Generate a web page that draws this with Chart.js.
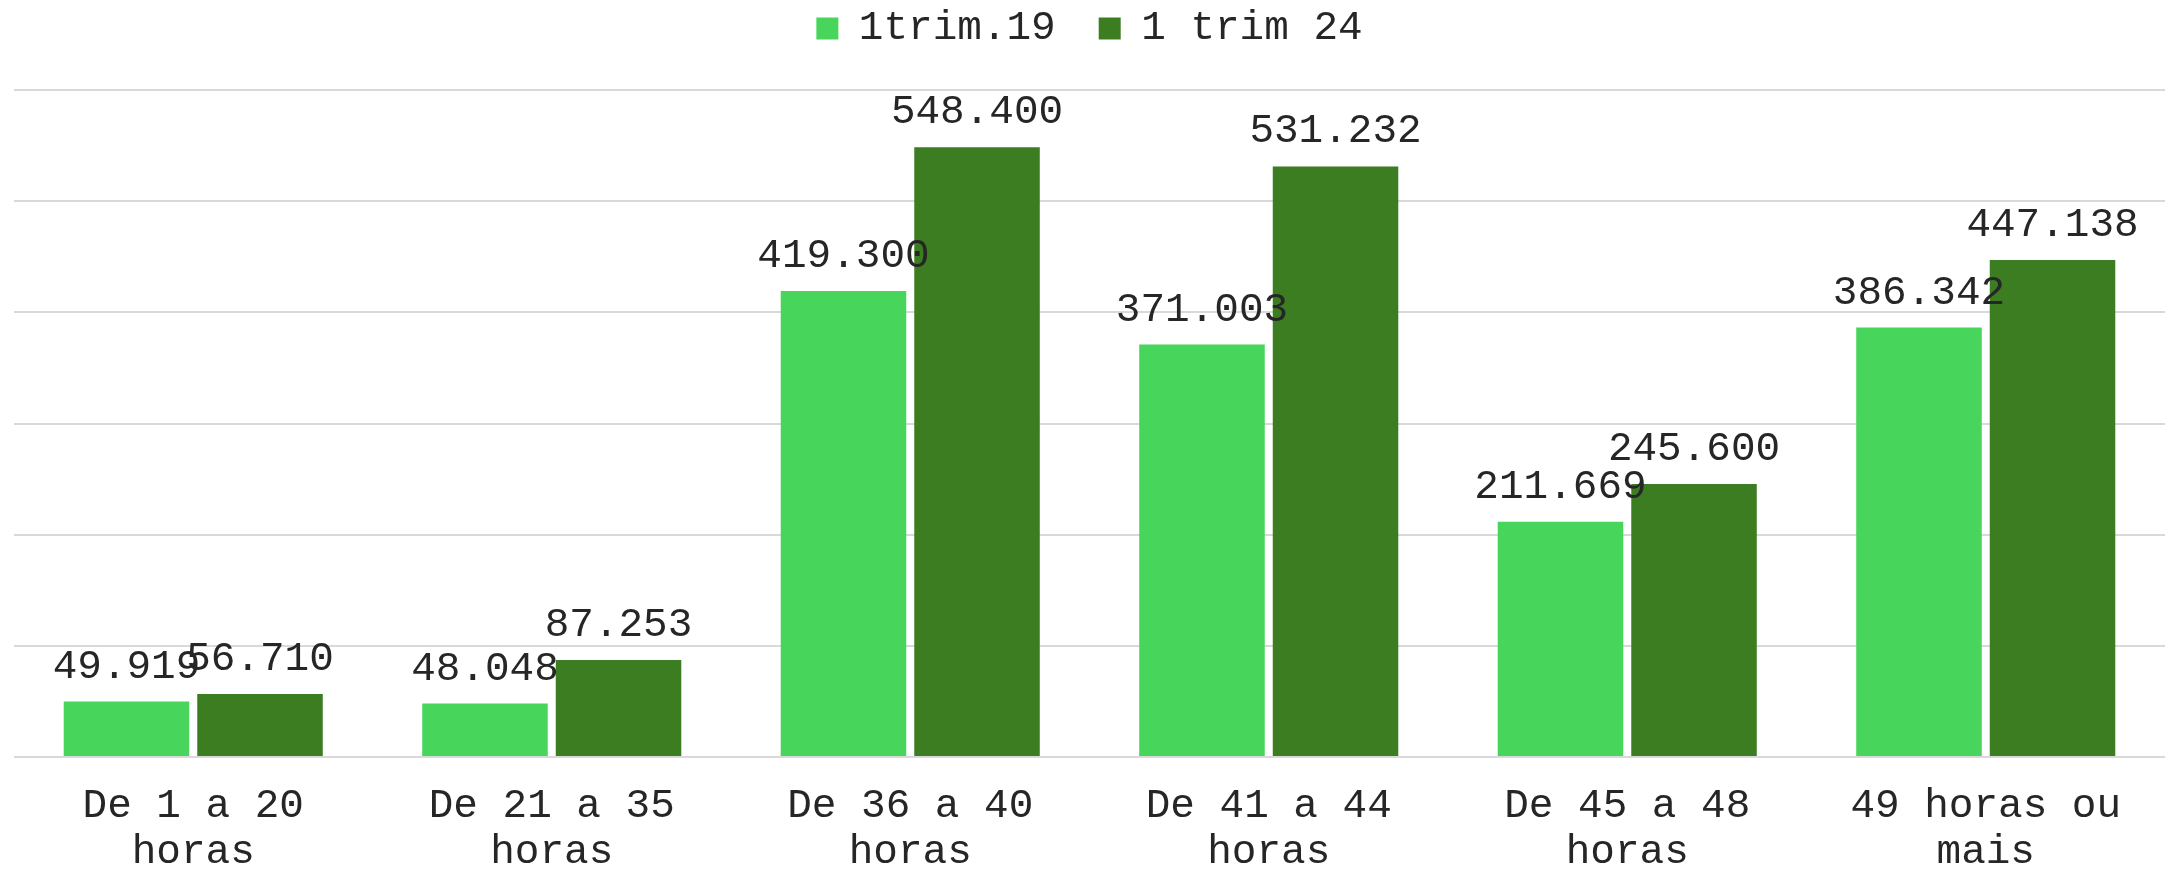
<!DOCTYPE html>
<html>
<head>
<meta charset="utf-8">
<script src="https://cdn.jsdelivr.net/npm/chart.js@4/dist/chart.umd.min.js"></script>
<style>
  html, body { margin: 0; padding: 0; background: #fff; }
  #wrap { width: 2165px; height: 869px; position: relative; }
</style>
</head>
<body>
<div id="wrap"><canvas id="horasChart"></canvas></div>
<script>
// dados
const categorias = [
    ['De 1 a 20', 'horas'],
    ['De 21 a 35', 'horas'],
    ['De 36 a 40', 'horas'],
    ['De 41 a 44', 'horas'],
    ['De 45 a 48', 'horas'],
    ['49 horas ou', 'mais']
];
const serieNomes = ['1trim.19', '1 trim 24'];
const trim19 = [49919, 48048, 419300, 371003, 211669, 386342];
const trim24 = [56710, 87253, 548400, 531232, 245600, 447138];
const gridTicks = [0, 100000, 200000, 300000, 400000, 500000, 600000];

const FONTE = "'Liberation Mono', 'Courier New', monospace";
const COR_TEXTO = '#262626';

function formataPt(v) {
    return String(v).replace(/\B(?=(\d{3})+(?!\d))/g, '.');
}

// rotulos por cima das barras
const rotulosPlugin = {
    id: 'rotulos',
    afterDatasetsDraw(chart) {
        const ctx = chart.ctx;
        ctx.save();
        ctx.font = `41px ${FONTE}`;
        ctx.fillStyle = COR_TEXTO;
        ctx.textAlign = 'center';
        ctx.textBaseline = 'alphabetic';
        chart.data.datasets.forEach((ds, i) => {
            chart.getDatasetMeta(i).data.forEach((bar, j) => {
                ctx.fillText(formataPt(ds.data[j]), bar.x, bar.y - 24);
            });
        });
        ctx.restore();
    }
};

// altura fixa da legenda, e sobe os itens (o padding grande e' para o espaco entre eles)
const legendaAltura = {
    id: 'legendaAltura',
    beforeInit(chart) {
        const fitOrig = chart.legend.fit;
        chart.legend.fit = function () {
            fitOrig.bind(chart.legend)();
            this.height = 90;
        };
    },
    afterLayout(chart) {
        chart.legend.top = -35;
    }
};

new Chart(document.getElementById('horasChart'), {
    type: 'bar',
    data: {
        labels: categorias,
        datasets: [
            { label: serieNomes[0], data: trim19, backgroundColor: '#47D55B' },
            { label: serieNomes[1], data: trim24, backgroundColor: '#3C7D22' }
        ]
    },
    options: {
        responsive: true,
        maintainAspectRatio: false,
        animation: false,
        datasets: { bar: { categoryPercentage: 0.745, barPercentage: 0.94 } },
        layout: { padding: { left: 14, right: 0, top: 0, bottom: 0 } },
        plugins: {
            legend: {
                position: 'top',
                labels: {
                    boxWidth: 22, boxHeight: 22, padding: 43,
                    color: COR_TEXTO,
                    font: { family: FONTE, size: 41 }
                }
            },
            tooltip: { enabled: false }
        },
        scales: {
            x: {
                grid: { display: false },
                border: { display: false },
                ticks: {
                    color: COR_TEXTO, padding: 18, maxRotation: 0, autoSkip: false,
                    font: { family: FONTE, size: 41, lineHeight: 1.13 }
                },
                afterFit(scale) { scale.height = 112; }
            },
            y: {
                min: gridTicks[0],
                max: gridTicks[gridTicks.length - 1],
                afterBuildTicks(scale) { scale.ticks = gridTicks.map(v => ({ value: v })); },
                ticks: { display: false },
                grid: { color: '#d9d9d9', lineWidth: 2, drawTicks: false },
                border: { display: false }
            }
        }
    },
    plugins: [rotulosPlugin, legendaAltura]
});
</script>
</body>
</html>
